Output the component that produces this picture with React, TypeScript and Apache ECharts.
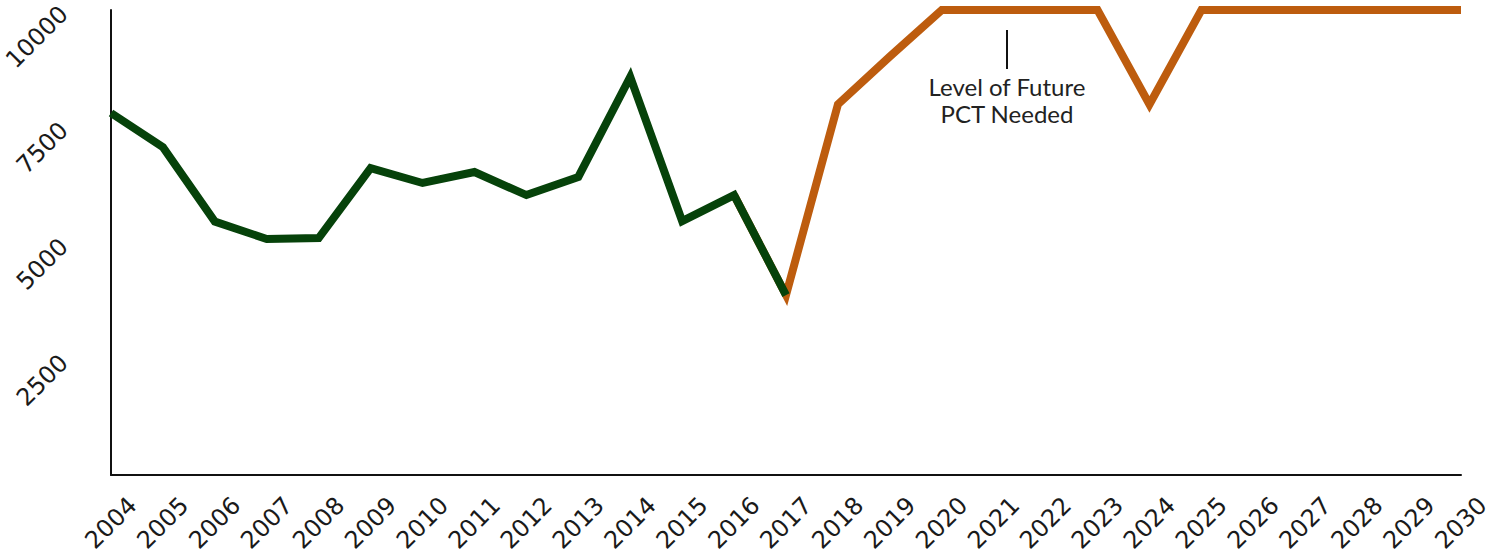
import React, { useEffect, useRef } from "react";
import * as echarts from "echarts";

const years = [
  "2004", "2005", "2006", "2007", "2008", "2009", "2010", "2011", "2012",
  "2013", "2014", "2015", "2016", "2017", "2018", "2019", "2020", "2021",
  "2022", "2023", "2024", "2025", "2026", "2027", "2028", "2029", "2030",
];

// Historic PCT (2004-2017)
const historicValues: (number | string)[] = [
  7785, 7050, 5450, 5075, 5095, 6600, 6280, 6515, 6020, 6410, 8560, 5460, 6020, 3870,
  "-", "-", "-", "-", "-", "-", "-", "-", "-", "-", "-", "-", "-",
];

// Future PCT needed (runs under the historic line from 2016, visible from 2017)
const futureValues: (number | string)[] = [
  "-", "-", "-", "-", "-", "-", "-", "-", "-", "-", "-", "-",
  6020, 3870, 7970, 9000, 10000, 10000, 10000, 10000, 7970, 10000, 10000, 10000, 10000, 10000, 10000,
];

const yMin = 0;
const yMax = 10000;
const yInterval = 2500;

const annotationText = "Level of Future\nPCT Needed";

const GREEN = "#06420A";
const ORANGE = "#BD5C0E";
const AXIS_FONT = "DejaVu Sans";

export default function App() {
  const ref = useRef<HTMLDivElement>(null);

  useEffect(() => {
    if (!ref.current) return;
    const chart = echarts.init(ref.current, null, { renderer: "svg" });
    chart.setOption({
      animation: false,
      backgroundColor: "#ffffff",
      grid: {
        left: 111,
        right: 42,
        top: 10,
        bottom: 79,
        containLabel: false,
        outerBoundsMode: "none",
      },
      xAxis: {
        type: "category",
        data: years,
        boundaryGap: false,
        axisLine: { show: true, lineStyle: { color: "#111", width: 2 } },
        axisTick: { show: false },
        splitLine: { show: false },
        axisLabel: {
          interval: 0,
          rotate: 45,
          align: "center",
          verticalAlign: "middle",
          margin: 48,
          fontSize: 24,
          fontFamily: AXIS_FONT,
          color: "#1a1a1a",
        },
      },
      yAxis: {
        type: "value",
        min: yMin,
        max: yMax,
        interval: yInterval,
        axisLine: { show: true, lineStyle: { color: "#111", width: 2 } },
        axisTick: { show: false },
        splitLine: { show: false },
        axisLabel: {
          rotate: 45,
          margin: 47,
          padding: [20, 0, 0, 0],
          fontSize: 24,
          fontFamily: AXIS_FONT,
          color: "#1a1a1a",
          formatter: (v: number) => (v === 0 ? "" : String(v)),
        },
      },
      series: [
        {
          type: "line",
          data: futureValues,
          showSymbol: false,
          symbol: "none",
          clip: false,
          lineStyle: { color: ORANGE, width: 8, cap: "butt", join: "miter" },
          z: 2,
        },
        {
          type: "line",
          data: historicValues,
          showSymbol: false,
          symbol: "none",
          clip: false,
          lineStyle: { color: GREEN, width: 8, cap: "butt", join: "miter" },
          z: 3,
        },
      ],
      graphic: [
        {
          type: "line",
          shape: { x1: 1007, y1: 30, x2: 1007, y2: 69 },
          style: { stroke: "#111", lineWidth: 2 },
          z: 10,
        },
        {
          type: "text",
          x: 1007,
          y: 73,
          style: {
            text: annotationText,
            align: "center",
            verticalAlign: "top",
            fontSize: 24,
            fontWeight: 400,
            fontFamily: "Lato",
            lineHeight: 27,
            fill: "#222",
          },
          z: 10,
        },
      ],
    });
    return () => chart.dispose();
  }, []);

  return (
    <div
      ref={ref}
      style={{ position: "absolute", left: 0, top: 0, width: 1503, height: 554 }}
    />
  );
}
